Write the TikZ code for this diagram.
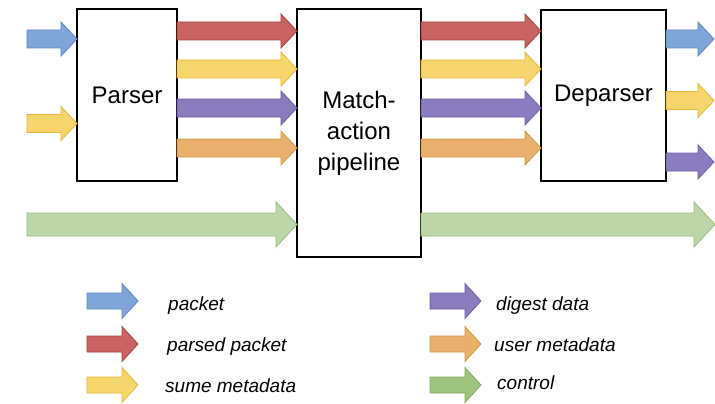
\documentclass[tikz,border=0pt]{standalone}
\usepackage{fontspec}
\setmainfont{Liberation Sans}
\usepackage{tikz}
\usetikzlibrary{calc}
\definecolor{pktblue}{RGB}{126,166,217}
\definecolor{pktblueD}{RGB}{92,134,196}
\definecolor{parsedred}{RGB}{200,100,98}
\definecolor{parsedredD}{RGB}{170,65,63}
\definecolor{sumeyellow}{RGB}{245,213,108}
\definecolor{sumeyellowD}{RGB}{230,183,55}
\definecolor{digestpurple}{RGB}{139,124,192}
\definecolor{digestpurpleD}{RGB}{110,95,168}
\definecolor{userorange}{RGB}{232,176,108}
\definecolor{userorangeD}{RGB}{212,150,70}
\definecolor{ctlgreen}{RGB}{190,215,168}
\definecolor{ctlgreenD}{RGB}{150,190,120}
\definecolor{keygreen}{RGB}{157,195,126}
\definecolor{keygreenD}{RGB}{130,170,100}
\tikzstyle{block}=[draw, line width=1.2pt, inner sep=0pt, outer sep=0pt, align=center, font=\fontsize{24}{31}\selectfont]
\tikzstyle{keytext}=[anchor=base west, inner sep=0pt, font=\fontsize{19}{23}\selectfont\itshape]
\tikzstyle{fatarrow}=[line width=0.8pt, line join=miter]
% fill colour, from, to, half shaft, half head, head length
\newcommand{\flow}[6]{%
  \filldraw[fatarrow, fill=#1, draw=#1D] let \p1=#2, \p2=#3 in
    (\x1,\y1+#4) -- (\x2-#6,\y1+#4) -- (\x2-#6,\y1+#5) -- (\x2,\y1)
    -- (\x2-#6,\y1-#5) -- (\x2-#6,\y1-#4) -- (\x1,\y1-#4) -- cycle;}

\begin{document}
\begin{tikzpicture}[x=1pt, y=-1pt]
\useasboundingbox (0,0) rectangle (715,404);
\node[block, minimum width=100pt, minimum height=172pt] (parser) at (127,95) {Parser};
\node[block, minimum width=124pt, minimum height=248pt] (match) at (359,133) {Match-\\action\\pipeline};
\node[block, minimum width=125pt, minimum height=171pt] (deparser) at (603.5,95.5) {Deparser};
\coordinate (in1) at (27,39);
\coordinate (in2) at (27,123.5);
\coordinate (r1) at (0,31);
\coordinate (r2) at (0,69);
\coordinate (r3) at (0,108);
\coordinate (r4) at (0,148);
\coordinate (cin) at (27,224.5);
\coordinate (cout) at (715,224.5);
\coordinate (out1) at (714,39);
\coordinate (out2) at (714,100.5);
\coordinate (out3) at (714,162);
% into the parser
\flow{pktblue}{(in1)}{(parser.west |- in1)}{9pt}{17pt}{16pt}
\flow{sumeyellow}{(in2)}{(parser.west |- in2)}{9pt}{17pt}{16pt}
% parser to match-action
\flow{parsedred}{(parser.east |- r1)}{(match.west |- r1)}{9pt}{17pt}{16pt}
\flow{sumeyellow}{(parser.east |- r2)}{(match.west |- r2)}{9pt}{17pt}{16pt}
\flow{digestpurple}{(parser.east |- r3)}{(match.west |- r3)}{9pt}{17pt}{16pt}
\flow{userorange}{(parser.east |- r4)}{(match.west |- r4)}{9pt}{17pt}{16pt}
% match-action to deparser
\flow{parsedred}{(match.east |- r1)}{(deparser.west |- r1)}{9pt}{17pt}{16pt}
\flow{sumeyellow}{(match.east |- r2)}{(deparser.west |- r2)}{9pt}{17pt}{16pt}
\flow{digestpurple}{(match.east |- r3)}{(deparser.west |- r3)}{9pt}{17pt}{16pt}
\flow{userorange}{(match.east |- r4)}{(deparser.west |- r4)}{9pt}{17pt}{16pt}
% out of the deparser
\flow{pktblue}{(deparser.east |- out1)}{(out1)}{9pt}{17pt}{16pt}
\flow{sumeyellow}{(deparser.east |- out2)}{(out2)}{9pt}{17pt}{16pt}
\flow{digestpurple}{(deparser.east |- out3)}{(out3)}{9pt}{17pt}{16pt}
% control
\flow{ctlgreen}{(cin)}{(match.west |- cin)}{11.5pt}{22.5pt}{21pt}
\flow{ctlgreen}{(match.east |- cin)}{(cout)}{11.5pt}{22.5pt}{21pt}
% key
\coordinate (k1) at (87,301);
\coordinate (k2) at (87,344);
\coordinate (k3) at (87,385);
\coordinate (k4) at (430,301);
\coordinate (k5) at (430,344);
\coordinate (k6) at (430,385);
\flow{pktblue}{(k1)}{($(k1)+(51,0)$)}{8pt}{17.5pt}{16pt}
\flow{parsedred}{(k2)}{($(k2)+(51,0)$)}{8pt}{17.5pt}{16pt}
\flow{sumeyellow}{(k3)}{($(k3)+(51,0)$)}{8pt}{17.5pt}{16pt}
\flow{digestpurple}{(k4)}{($(k4)+(51,0)$)}{8pt}{17.5pt}{16pt}
\flow{userorange}{(k5)}{($(k5)+(51,0)$)}{8pt}{17.5pt}{16pt}
\flow{keygreen}{(k6)}{($(k6)+(51,0)$)}{8pt}{17.5pt}{16pt}
\node[keytext] (t1) at (168,310) {packet};
\node[keytext] (t2) at (167,351) {parsed packet};
\node[keytext] (t3) at (165,392) {sume metadata};
\node[keytext] (t4) at (496,310) {digest data};
\node[keytext] (t5) at (494,351) {user metadata};
\node[keytext] (t6) at (497,389) {control};
\end{tikzpicture}
\end{document}
